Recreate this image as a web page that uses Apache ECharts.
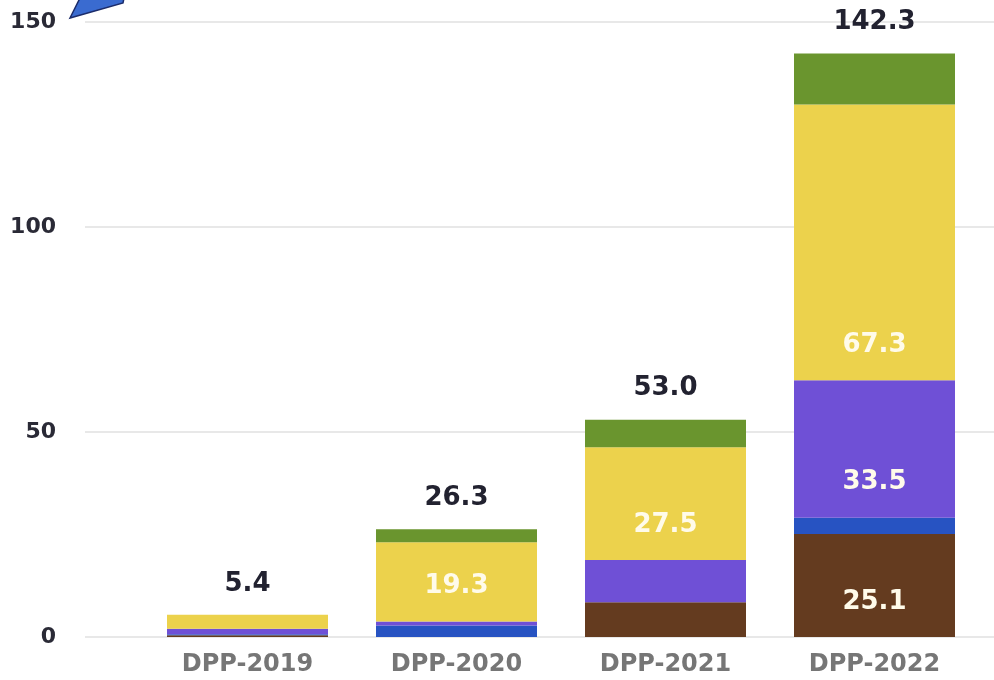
<!DOCTYPE html>
<html>
<head>
<meta charset="utf-8">
<script src="https://cdn.jsdelivr.net/npm/echarts@6/dist/echarts.min.js"></script>
<style>html,body{margin:0;padding:0;background:#fff;}#c{width:994px;height:680px;}</style>
</head>
<body>
<div id="c"></div>
<script>
var categories = ['DPP-2019', 'DPP-2020', 'DPP-2021', 'DPP-2022'];
var brownVals  = [0.4, 0, 8.5, 25.1];
var blueVals   = [0.3, 2.8, 0, 4.0];
var purpleVals = [1.3, 1.0, 10.3, 33.5];
var yellowVals = [3.4, 19.3, 27.5, 67.3];
var greenVals  = [0, 3.2, 6.7, 12.4];
var totals     = [5.4, 26.3, 53.0, 142.3];
var yTicks     = [0, 50, 100, 150];

var chart = echarts.init(document.getElementById('c'));
var FONT = 'DejaVu Sans';
function inner(p) {
  return p.value >= 15 ? p.value.toFixed(1) : '';
}
function seg(name, data, color) {
  return {
    name: name, type: 'bar', stack: 's', data: data,
    xAxisIndex: 1, yAxisIndex: 1,
    barWidth: 161,
    itemStyle: { color: color },
    label: {
      show: true, position: 'insideBottom', distance: 22,
      formatter: inner, color: '#fffbea',
      fontFamily: FONT, fontWeight: 'bold', fontSize: 26
    }
  };
}
var option = {
  animation: false,
  grid: [
    { left: 85, right: 0, top: 22, bottom: 43 },
    { left: 143, right: 15, top: 22, bottom: 43 }
  ],
  xAxis: [
    { type: 'category', gridIndex: 0, data: categories, show: false },
    {
      type: 'category', gridIndex: 1, data: categories,
      axisLine: { show: false }, axisTick: { show: false },
      axisLabel: { color: '#767676', fontFamily: FONT, fontWeight: 'bold', fontSize: 24, margin: 16 }
    }
  ],
  yAxis: [
    {
      type: 'value', gridIndex: 0, min: yTicks[0], max: yTicks[yTicks.length - 1], interval: 50,
      axisLine: { show: false }, axisTick: { show: false },
      axisLabel: { color: '#2a2a36', fontFamily: FONT, fontWeight: 'bold', fontSize: 22, margin: 29 },
      splitLine: { lineStyle: { color: '#e8e8e8', width: 2 } }
    },
    {
      type: 'value', gridIndex: 1, min: yTicks[0], max: yTicks[yTicks.length - 1], interval: 50,
      show: false, splitLine: { show: false }
    }
  ],
  series: [
    seg('Brown', brownVals, '#643b1f'),
    seg('Blue', blueVals, '#2753c2'),
    seg('Purple', purpleVals, '#6f50d6'),
    seg('Yellow', yellowVals, '#ecd24c'),
    seg('Green', greenVals, '#6a952e'),
    {
      name: 'Total', type: 'bar', stack: 's', xAxisIndex: 1, yAxisIndex: 1,
      barWidth: 161,
      data: totals.map(function () { return 0; }),
      itemStyle: { color: 'transparent' },
      label: {
        show: true, position: 'top', distance: 18,
        formatter: function (p) { return totals[p.dataIndex].toFixed(1); },
        color: '#222230', fontFamily: FONT, fontWeight: 'bold', fontSize: 26
      }
    }
  ],
  graphic: [
    {
      type: 'polygon',
      shape: { points: [[70, 18], [80, -2], [124, -2], [123, 3]] },
      style: { fill: '#3a6bd0', stroke: '#1c2c6a', lineWidth: 1.5 }
    }
  ]
};
chart.setOption(option);
</script>
</body>
</html>
